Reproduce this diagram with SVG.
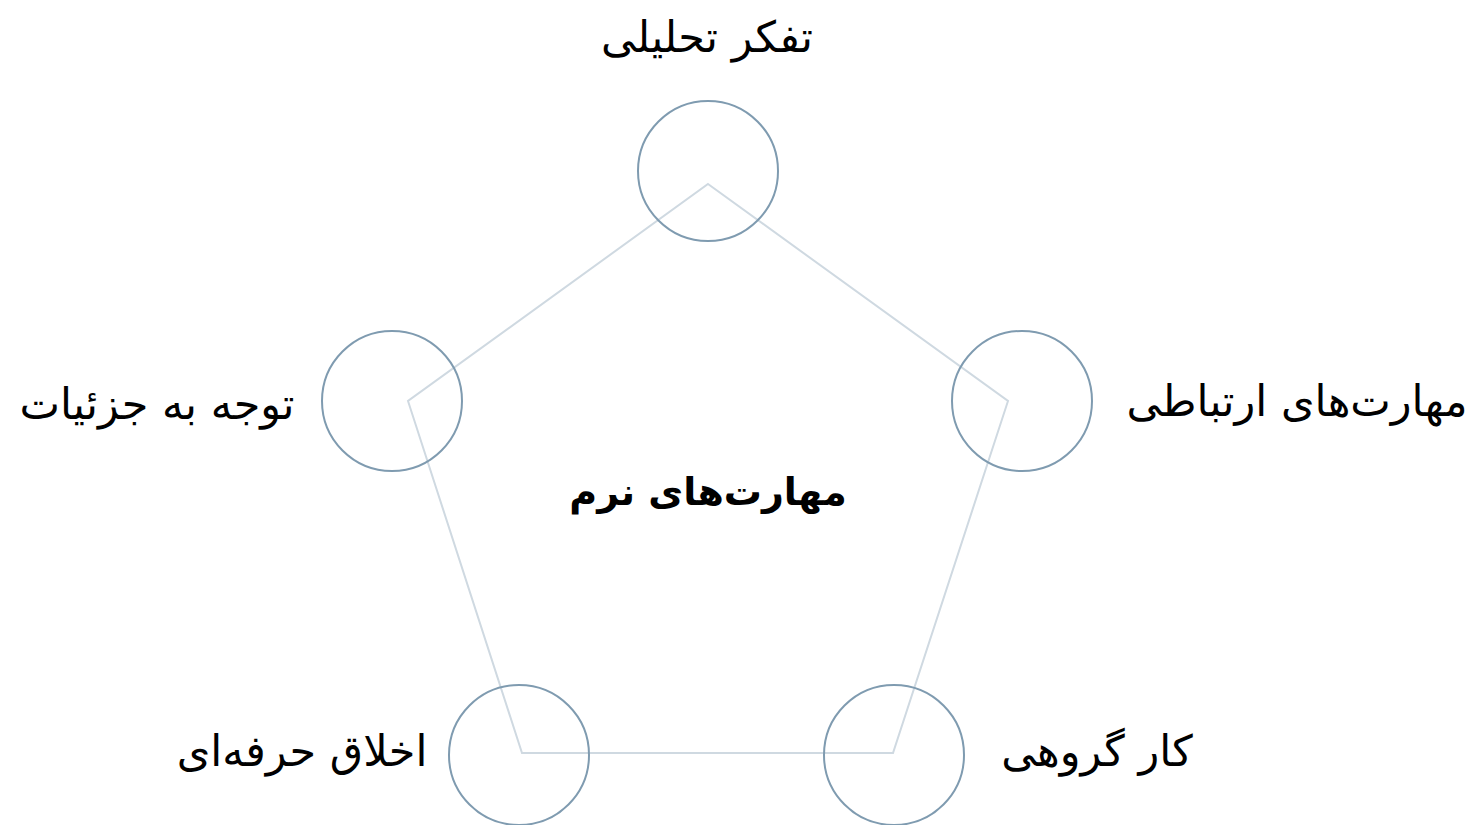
<svg xmlns="http://www.w3.org/2000/svg" width="1473" height="825" viewBox="0 0 1473 825">
<style>
.node circle{fill:none;stroke:#7f9bb0;stroke-width:2}
.lbl{font-family:"DejaVu Sans","Noto Sans",sans-serif;font-size:43px;fill:#000;text-anchor:middle}
.title{font-family:"DejaVu Sans","Noto Sans",sans-serif;font-size:38px;font-weight:bold;fill:#000;text-anchor:middle}
.edge{fill:none;stroke:#cfd9e1;stroke-width:2;stroke-linejoin:miter}
</style>
<rect width="1473" height="825" fill="#fff"/>
<g id="connectors">
<polygon class="edge" points="708,184 1008,401 893,753 522,753 408,401"/>
</g>
<g id="center"><text class="title" x="708" y="505" direction="rtl">مهارت&#8204;های نرم</text></g>
<g id="n1" class="node"><circle cx="708" cy="171" r="70"/><text class="lbl" x="707" y="52" direction="rtl">تفکر تحلیلی</text></g>
<g id="n2" class="node"><circle cx="1022" cy="401" r="70"/><text class="lbl" x="1297" y="416" direction="rtl">مهارت&#8204;های ارتباطی</text></g>
<g id="n3" class="node"><circle cx="894" cy="755" r="70"/><text class="lbl" x="1097" y="766" direction="rtl">کار گروهی</text></g>
<g id="n4" class="node"><circle cx="519" cy="755" r="70"/><text class="lbl" x="302" y="766" direction="rtl">اخلاق حرفه&#8204;ای</text></g>
<g id="n5" class="node"><circle cx="392" cy="401" r="70"/><text class="lbl" x="157" y="419" direction="rtl">توجه به جزئیات</text></g>
</svg>
